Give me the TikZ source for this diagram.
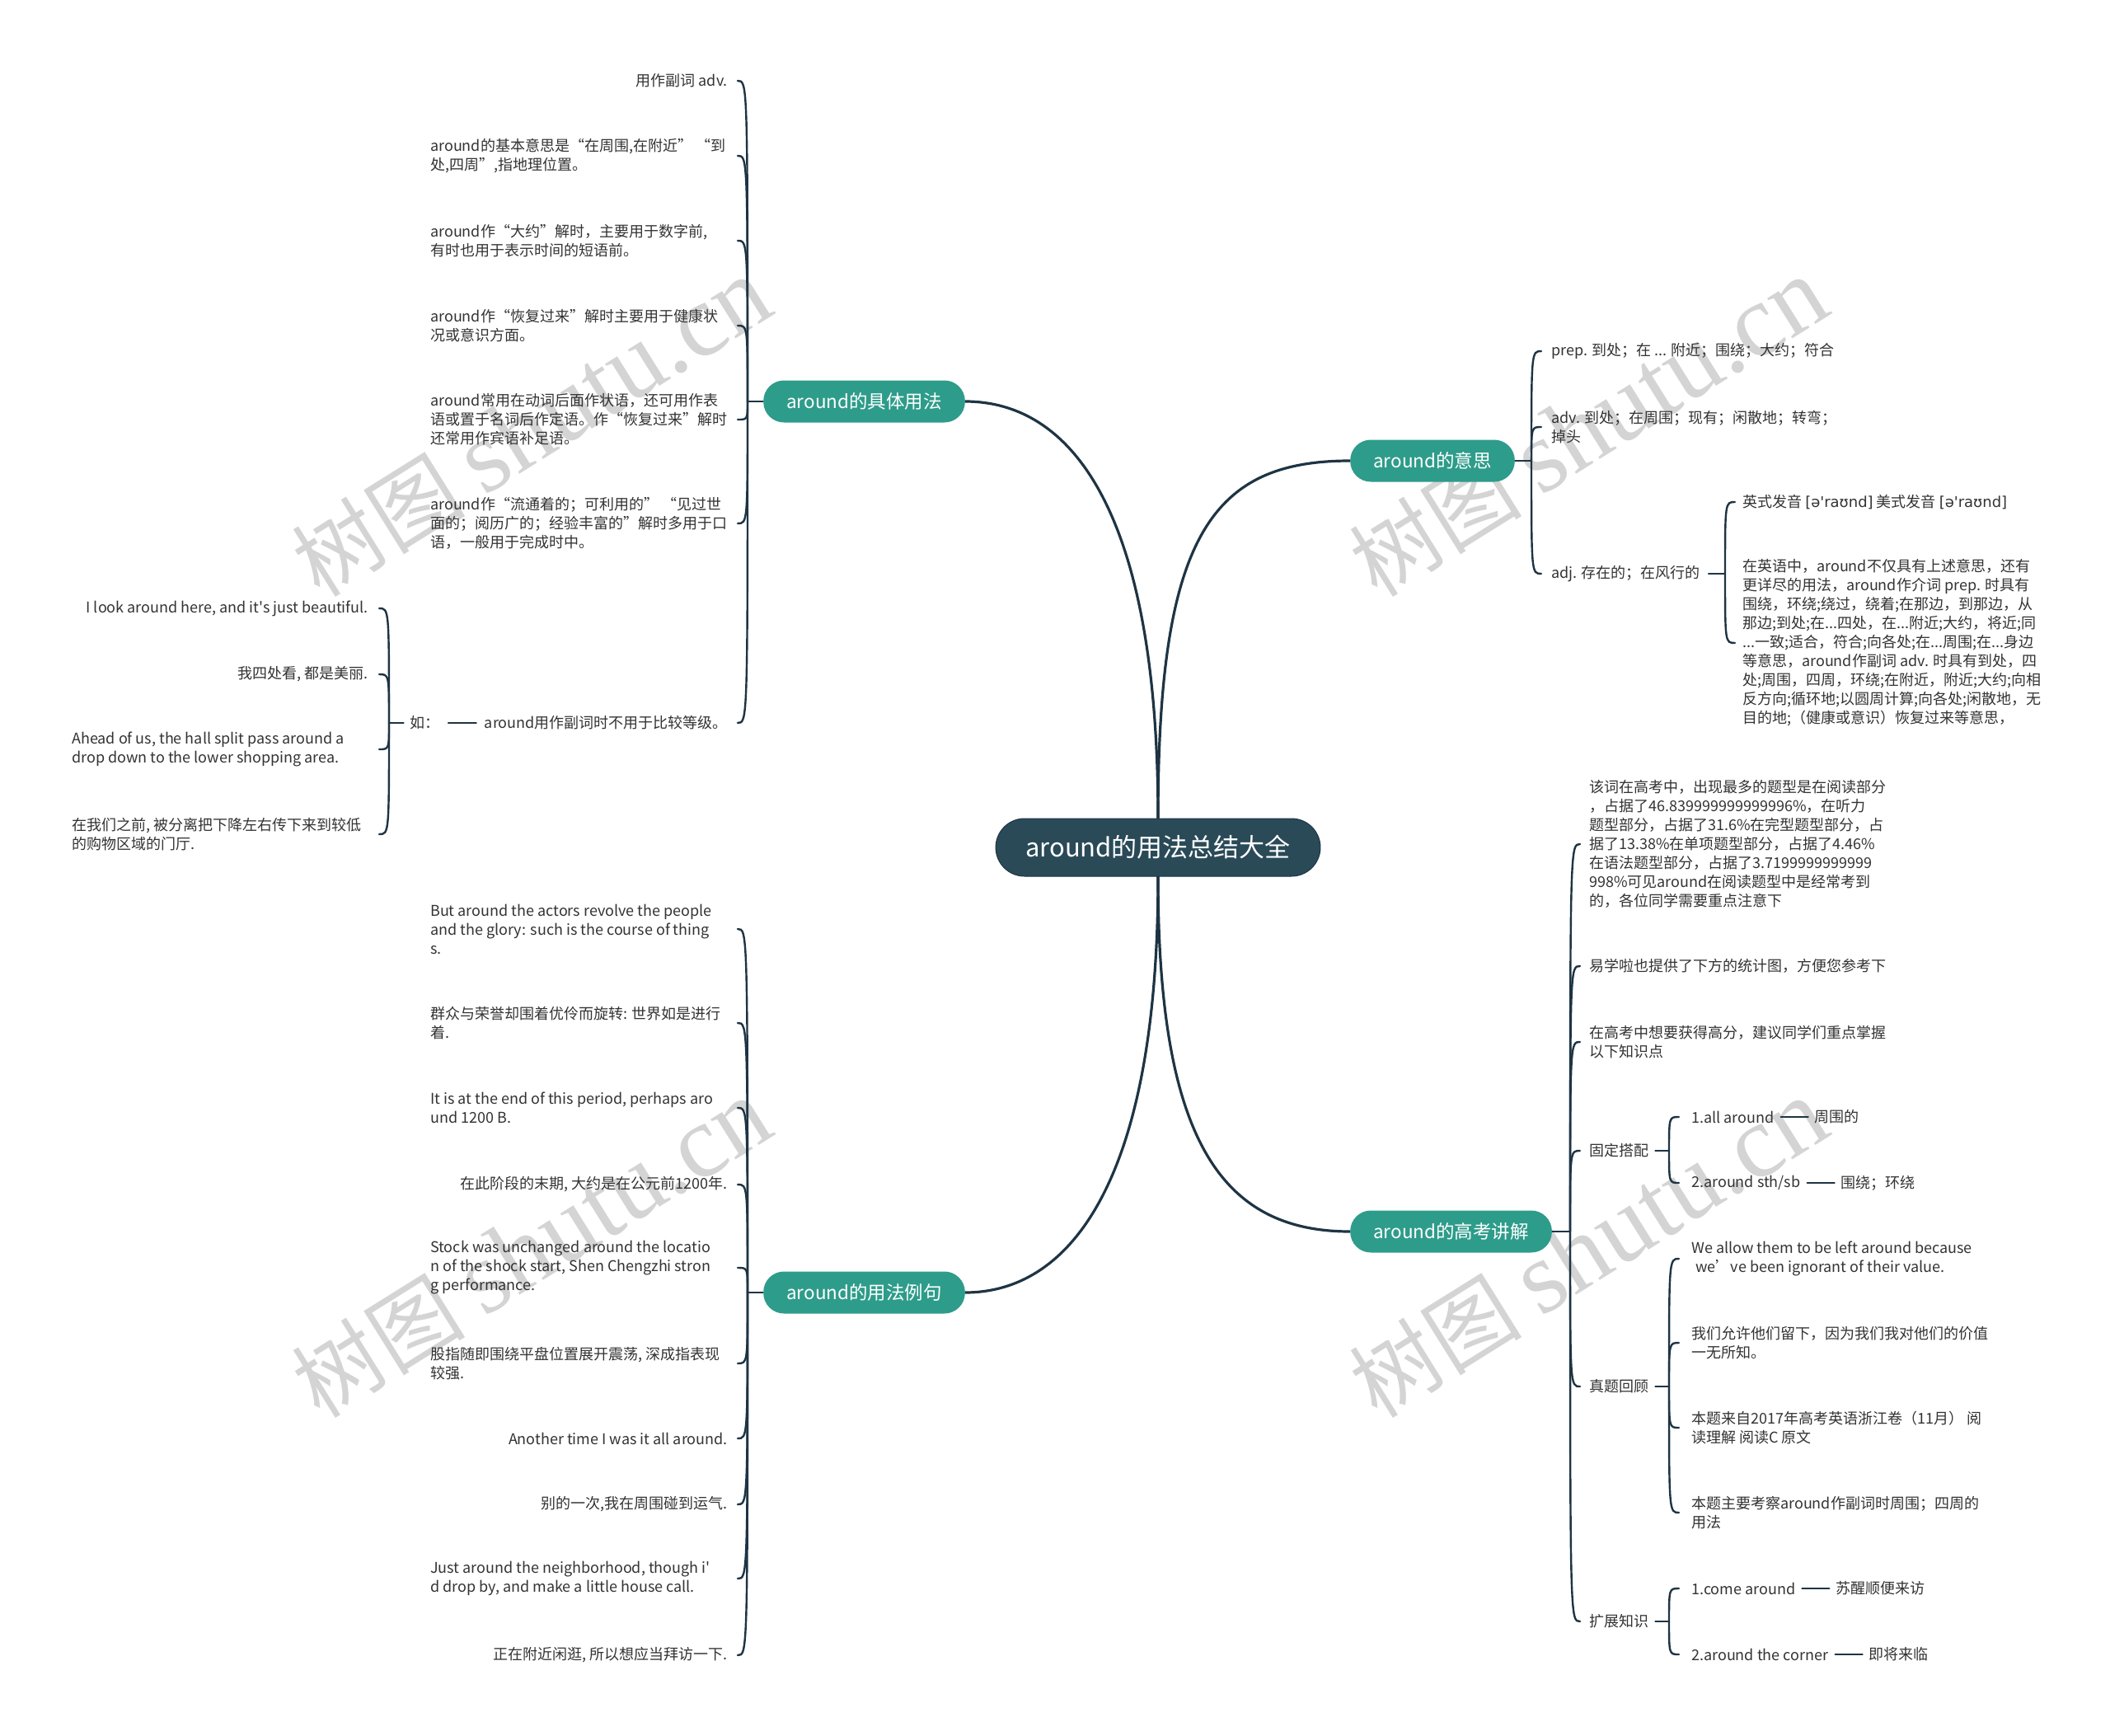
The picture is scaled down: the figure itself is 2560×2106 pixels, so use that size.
\documentclass[tikz,border=0pt]{standalone}
\usepackage{fontspec}
\setmainfont{Noto Sans CJK SC}[Ligatures=TeXOff]
\newfontfamily\ipafont{DejaVu Sans}
\newfontfamily\wmserif{Liberation Serif}
\usetikzlibrary{calc,backgrounds}
\definecolor{linec}{HTML}{1E3444}
\definecolor{mainfill}{HTML}{2A4A58}
\definecolor{brfill}{HTML}{2E9C8A}
\definecolor{txt}{HTML}{333333}
\definecolor{wmc}{HTML}{D4D4D4}
\tikzset{
  conn/.style={draw=linec, line width=2.4pt, line cap=round},
  mainconn/.style={draw=linec, line width=3.2pt, line cap=round},
  leaf/.style={inner sep=0pt, text=txt, font=\fontsize{18}{23}\selectfont, align=left},
  rootbox/.style={rounded corners=35pt, fill=mainfill, draw=linec, line width=1pt, text=white,
    font=\fontsize{31}{36}\selectfont, minimum height=70pt, inner xsep=36pt, inner ysep=0pt},
  branchbox/.style={rounded corners=25pt, fill=brfill, text=white,
    font=\fontsize{22.5}{27}\selectfont, minimum height=51pt, inner xsep=28pt, inner ysep=0pt},
  wmark/.style={text=wmc, rotate=32, inner sep=0pt}
}
\begin{document}
\begin{tikzpicture}[x=1pt,y=-1pt]
\useasboundingbox (0,0) rectangle (2560,2106);

% root and branches
\node[rootbox] (root) at (1405,1028) {around的用法总结大全};
\node[branchbox, anchor=west] (b1) at (926,487) {around的具体用法};
\node[branchbox, anchor=west] (b2) at (926,1568) {around的用法例句};
\node[branchbox, anchor=west] (b3) at (1638,559) {around的意思};
\node[branchbox, anchor=west] (b4) at (1638,1494) {around的高考讲解};

\coordinate (j1) at (907,487);
\coordinate (j2) at (907,1568);
\coordinate (j3) at (1858,559);
\coordinate (j4) at (1905,1494);

% branch 1 children
\node[leaf, anchor=east] (c11) at (883,98) {用作副词 adv.};
\node[leaf, anchor=west] (c12) at (522,189) {around的基本意思是“在周围,在附近” “到\\处,四周”,指地理位置。};
\node[leaf, anchor=west] (c13) at (522,292) {around作“大约”解时，主要用于数字前,\\有时也用于表示时间的短语前。};
\node[leaf, anchor=west] (c14) at (522,395) {around作“恢复过来”解时主要用于健康状\\况或意识方面。};
\node[leaf, anchor=west] (c15) at (522,509) {around常用在动词后面作状语，还可用作表\\语或置于名词后作定语。作“恢复过来”解时\\还常用作宾语补足语。};
\node[leaf, anchor=west] (c16) at (522,635) {around作“流通着的；可利用的” “见过世\\面的；阅历广的；经验丰富的”解时多用于口\\语，一般用于完成时中。};
\node[leaf, anchor=east] (c17) at (883,877) {around用作副词时不用于比较等级。};
\node[leaf, anchor=east] (ru) at (534,877) {如：};
\coordinate (jr) at (472,877);
\node[leaf, anchor=east] (e1) at (447,738) {I look around here, and it's just beautiful.};
\node[leaf, anchor=east] (e2) at (447,818) {我四处看, 都是美丽.};
\node[leaf, anchor=west] (e3) at (87,909) {Ahead of us, the hall split pass around a\\drop down to the lower shopping area.};
\node[leaf, anchor=west] (e4) at (87,1012) {在我们之前, 被分离把下降左右传下来到较低\\的购物区域的门厅.};

% branch 2 children
\node[leaf, anchor=west] (c21) at (522,1127) {But around the actors revolve the people\\and the glory: such is the course of thing\\s.};
\node[leaf, anchor=west] (c22) at (522,1241) {群众与荣誉却围着优伶而旋转: 世界如是进行\\着.};
\node[leaf, anchor=west] (c23) at (522,1344) {It is at the end of this period, perhaps aro\\und 1200 B.};
\node[leaf, anchor=east] (c24) at (883,1437) {在此阶段的末期, 大约是在公元前1200年.};
\node[leaf, anchor=west] (c25) at (522,1538) {Stock was unchanged around the locatio\\n of the shock start, Shen Chengzhi stron\\g performance.};
\node[leaf, anchor=west] (c26) at (522,1654) {股指随即围绕平盘位置展开震荡, 深成指表现\\较强.};
\node[leaf, anchor=east] (c27) at (883,1745) {Another time I was it all around.};
\node[leaf, anchor=east] (c28) at (883,1825) {别的一次,我在周围碰到运气.};
\node[leaf, anchor=west] (c29) at (522,1915) {Just around the neighborhood, though i'\\d drop by, and make a little house call.};
\node[leaf, anchor=east] (c2a) at (883,2008) {正在附近闲逛, 所以想应当拜访一下.};

% branch 3 children
\node[leaf, anchor=west] (c31) at (1882,426) {prep. 到处；在 ... 附近；围绕；大约；符合};
\node[leaf, anchor=west] (c32) at (1882,518) {adv. 到处；在周围；现有；闲散地；转弯；\\掉头};
\node[leaf, anchor=west] (c33) at (1882,696) {adj. 存在的；在风行的};
\coordinate (ja) at (2093,696);
\node[leaf, anchor=west] (c331) at (2114,609) {英式发音 {\ipafont[ə'raʊnd]} 美式发音 {\ipafont[ə'raʊnd]}};
\node[leaf, anchor=west] (c332) at (2114,780) {在英语中，around不仅具有上述意思，还有\\更详尽的用法，around作介词 prep. 时具有\\围绕，环绕;绕过，绕着;在那边，到那边，从\\那边;到处;在...四处，在...附近;大约，将近;同\\...一致;适合，符合;向各处;在...周围;在...身边\\等意思，around作副词 adv. 时具有到处，四\\处;周围，四周，环绕;在附近，附近;大约;向相\\反方向;循环地;以圆周计算;向各处;闲散地，无\\目的地;（健康或意识）恢复过来等意思，};

% branch 4 children
\node[leaf, anchor=west] (c41) at (1928,1024) {该词在高考中，出现最多的题型是在阅读部分\\，占据了46.839999999999996\%，在听力\\题型部分，占据了31.6\%在完型题型部分，占\\据了13.38\%在单项题型部分，占据了4.46\%\\在语法题型部分，占据了3.7199999999999\\998\%可见around在阅读题型中是经常考到\\的，各位同学需要重点注意下};
\node[leaf, anchor=west] (c42) at (1928,1172) {易学啦也提供了下方的统计图，方便您参考下};
\node[leaf, anchor=west] (c43) at (1928,1264) {在高考中想要获得高分，建议同学们重点掌握\\以下知识点};
\node[leaf, anchor=west] (c44) at (1928,1396) {固定搭配};
\coordinate (jg) at (2025,1396);
\node[leaf, anchor=west] (s1) at (2052,1355) {1.all around};
\node[leaf, anchor=west] (t1) at ([xshift=49pt]s1.east) {周围的};
\node[leaf, anchor=west] (s2) at (2052,1435) {2.around sth/sb};
\node[leaf, anchor=west] (t2) at ([xshift=49pt]s2.east) {围绕；环绕};
\node[leaf, anchor=west] (c45) at (1928,1682) {真题回顾};
\coordinate (jz) at (2025,1682);
\node[leaf, anchor=west] (z1) at (2052,1527) {We allow them to be left around because\\\hspace*{0.3em}we’ve been ignorant of their value.};
\node[leaf, anchor=west] (z2) at (2052,1629) {我们允许他们留下，因为我们我对他们的价值\\一无所知。};
\node[leaf, anchor=west] (z3) at (2052,1732) {本题来自2017年高考英语浙江卷（11月） 阅\\读理解 阅读C 原文};
\node[leaf, anchor=west] (z4) at (2052,1835) {本题主要考察around作副词时周围；四周的\\用法};
\node[leaf, anchor=west] (c46) at (1928,1967) {扩展知识};
\coordinate (jk) at (2025,1967);
\node[leaf, anchor=west] (k1) at (2052,1927) {1.come around};
\node[leaf, anchor=west] (u1) at ([xshift=49pt]k1.east) {苏醒顺便来访};
\node[leaf, anchor=west] (k2) at (2052,2007) {2.around the corner};
\node[leaf, anchor=west] (u2) at ([xshift=49pt]k2.east) {即将来临};

\begin{pgfonlayer}{background}
\fill[white] (0,0) rectangle (2560,2106);
% watermarks
\foreach \wx/\wy/\wn in {645/519/wa, 1927/519/wb, 645/1515/wc, 1927/1515/wd}{
  \node[wmark] (\wn) at (\wx,\wy) {\fontsize{105}{110}\selectfont 树图 {\wmserif\fontsize{125}{130}\selectfont shutu.cn}};
}
% main connectors
\draw[mainconn] (root.north) .. controls (1405,620) and (1300,487) .. (b1.east);
\draw[mainconn] (root.north) .. controls (1405,650) and (1470,559) .. (b3.west);
\draw[mainconn] (root.south) .. controls (1405,1430) and (1300,1568) .. (b2.east);
\draw[mainconn] (root.south) .. controls (1405,1380) and (1480,1494) .. (b4.west);
% branch 1
\draw[conn] (b1.west) -- (j1);
\foreach \c in {c11,c12,c13,c14,c15,c16,c17}
  \draw[conn] (j1) .. controls (j1 |- \c.east) .. ([xshift=-12pt]j1 |- \c.east);
\draw[conn] ([xshift=-10pt]c17.west) -- ([xshift=10pt]ru.east);
\draw[conn] ([xshift=-8pt]ru.west) -- (jr);
\foreach \c in {e1,e2,e3,e4}
  \draw[conn] (jr) .. controls (jr |- \c.east) .. ([xshift=-12pt]jr |- \c.east);
% branch 2
\draw[conn] (b2.west) -- (j2);
\foreach \c in {c21,c22,c23,c24,c25,c26,c27,c28,c29,c2a}
  \draw[conn] (j2) .. controls (j2 |- \c.east) .. ([xshift=-12pt]j2 |- \c.east);
% branch 3
\draw[conn] (b3.east) -- (j3);
\foreach \c in {c31,c32,c33}
  \draw[conn] (j3) .. controls (j3 |- \c.west) .. ([xshift=12pt]j3 |- \c.west);
\draw[conn] ([xshift=10pt]c33.east) -- (ja);
\foreach \c in {c331,c332}
  \draw[conn] (ja) .. controls (ja |- \c.west) .. ([xshift=12pt]ja |- \c.west);
% branch 4
\draw[conn] (b4.east) -- (j4);
\foreach \c in {c41,c42,c43,c44,c45,c46}
  \draw[conn] (j4) .. controls (j4 |- \c.west) .. ([xshift=12pt]j4 |- \c.west);
\draw[conn] ([xshift=8pt]c44.east) -- (jg);
\foreach \c in {s1,s2}
  \draw[conn] (jg) .. controls (jg |- \c.west) .. ([xshift=12pt]jg |- \c.west);
\draw[conn] ([xshift=8pt]c45.east) -- (jz);
\foreach \c in {z1,z2,z3,z4}
  \draw[conn] (jz) .. controls (jz |- \c.west) .. ([xshift=12pt]jz |- \c.west);
\draw[conn] ([xshift=8pt]c46.east) -- (jk);
\foreach \c in {k1,k2}
  \draw[conn] (jk) .. controls (jk |- \c.west) .. ([xshift=12pt]jk |- \c.west);
\draw[conn] ([xshift=8pt]s1.east) -- ([xshift=-8pt]t1.west);
\draw[conn] ([xshift=8pt]s2.east) -- ([xshift=-8pt]t2.west);
\draw[conn] ([xshift=8pt]k1.east) -- ([xshift=-8pt]u1.west);
\draw[conn] ([xshift=8pt]k2.east) -- ([xshift=-8pt]u2.west);
\end{pgfonlayer}
\end{tikzpicture}
\end{document}
